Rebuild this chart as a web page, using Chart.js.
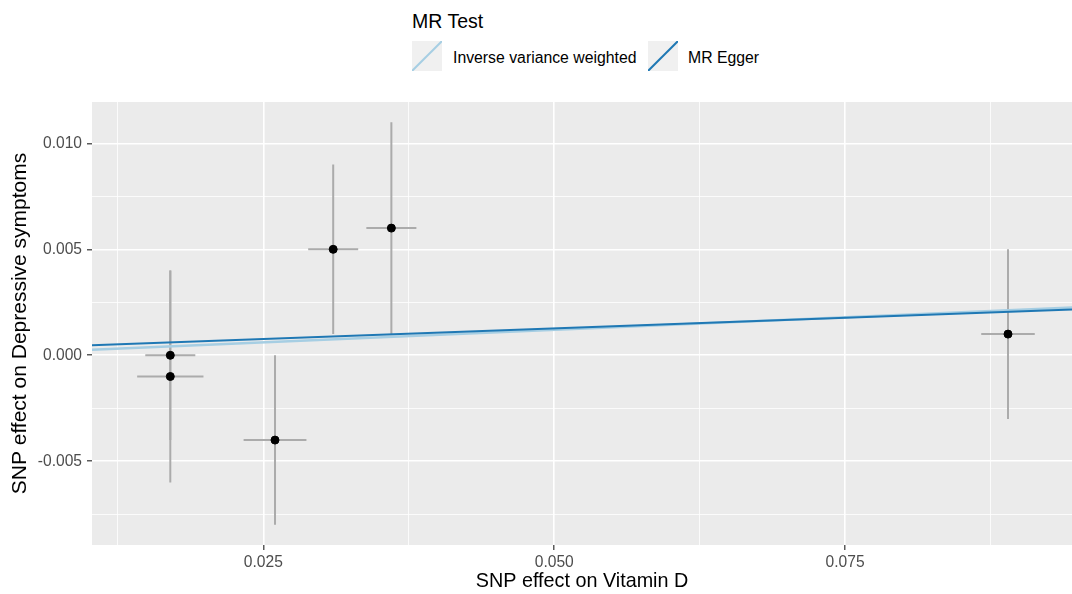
<!DOCTYPE html>
<html>
<head>
<meta charset="utf-8">
<script src="https://cdn.jsdelivr.net/npm/chart.js@4.4.1/dist/chart.umd.min.js"></script>
<style>
  html, body { margin: 0; padding: 0; background: #fff; }
  body { width: 1072px; height: 594px; position: relative; overflow: hidden;
         font-family: "Liberation Sans", Arial, sans-serif; }
  #wrap { position: absolute; left: 0; top: 0; width: 1072px; height: 594px; }
  .lg { position: absolute; white-space: nowrap; color: #000; }
  .lg-title { left: 412px; top: 9px; font-size: 19.5px; line-height: 24px; }
  .lg-text { top: 48px; font-size: 15.8px; line-height: 20px; }
  .lg-key { position: absolute; top: 41px; width: 30px; height: 30px; }
</style>
</head>
<body>
<div class="lg lg-title">MR Test</div>
<svg class="lg-key" style="left:412px" viewBox="0 0 30 30">
  <rect width="30" height="30" fill="#f0f0f0"/>
  <line x1="0" y1="30" x2="30" y2="0" stroke="#a6cee3" stroke-width="2"/>
</svg>
<div class="lg lg-text" style="left:453px">Inverse variance weighted</div>
<svg class="lg-key" style="left:648px" viewBox="0 0 30 30">
  <rect width="30" height="30" fill="#f0f0f0"/>
  <line x1="0" y1="30" x2="30" y2="0" stroke="#1f78b4" stroke-width="2"/>
</svg>
<div class="lg lg-text" style="left:688px">MR Egger</div>
<div id="wrap"><canvas id="c" width="1072" height="594"></canvas></div>
<script>
// SNP effects
const snpX    = [0.017, 0.017, 0.026, 0.031, 0.036, 0.089];
const snpY    = [0.000, -0.001, -0.004, 0.005, 0.006, 0.001];
const snpXse  = [0.00215, 0.00285, 0.0027, 0.00215, 0.00215, 0.0023];
const snpYse  = [0.004, 0.005, 0.004, 0.004, 0.005, 0.004];

// fitted lines, endpoints at the panel edges
const lineX    = [0.01027, 0.0945];
const ivwY     = [0.00026, 0.00226];
const eggerY   = [0.00047, 0.00216];

// axes
const xRange = [0.01027, 0.0945];
const yRange = [-0.00895, 0.01195];
const xGrid  = [0.0125, 0.025, 0.0375, 0.05, 0.0625, 0.075, 0.0875];
const xMajor = [0.025, 0.05, 0.075];
const xTickLabels = ["0.025", "0.050", "0.075"];
const yGrid  = [-0.0075, -0.005, -0.0025, 0, 0.0025, 0.005, 0.0075, 0.01];
const yMajor = [-0.005, 0, 0.005, 0.01];
const yTickLabels = ["-0.005", "0.000", "0.005", "0.010"];

const FONT = "Liberation Sans, Arial, sans-serif";

function majorIndex(list, v) {
  return list.findIndex((m) => Math.abs(m - v) < 1e-9);
}

const panelBg = {
  id: "panelBg",
  beforeDraw(chart) {
    const { ctx, chartArea: a } = chart;
    ctx.save();
    ctx.fillStyle = "#ebebeb";
    ctx.fillRect(a.left, a.top, a.right - a.left, a.bottom - a.top);
    ctx.restore();
  }
};

const errorBars = {
  id: "errorBars",
  beforeDatasetsDraw(chart) {
    const { ctx, chartArea: a } = chart;
    const xs = chart.scales.x, ys = chart.scales.y;
    ctx.save();
    ctx.beginPath();
    ctx.rect(a.left, a.top, a.right - a.left, a.bottom - a.top);
    ctx.clip();
    ctx.strokeStyle = "#ababab";
    ctx.lineWidth = 2;
    snpX.forEach((x, i) => {
      const px = xs.getPixelForValue(x), py = ys.getPixelForValue(snpY[i]);
      ctx.beginPath();
      ctx.moveTo(px, ys.getPixelForValue(snpY[i] - snpYse[i]));
      ctx.lineTo(px, ys.getPixelForValue(snpY[i] + snpYse[i]));
      ctx.moveTo(xs.getPixelForValue(x - snpXse[i]), py);
      ctx.lineTo(xs.getPixelForValue(x + snpXse[i]), py);
      ctx.stroke();
    });
    ctx.restore();
  }
};

new Chart(document.getElementById("c"), {
  type: "scatter",
  data: {
    datasets: [
      {
        label: "MR Egger",
        type: "line",
        data: lineX.map((x, i) => ({ x, y: eggerY[i] })),
        borderColor: "#1f78b4",
        borderWidth: 2,
        pointRadius: 0,
        order: 0
      },
      {
        label: "Inverse variance weighted",
        type: "line",
        data: lineX.map((x, i) => ({ x, y: ivwY[i] })),
        borderColor: "#a6cee3",
        borderWidth: 2.5,
        pointRadius: 0,
        order: 1
      },
      {
        label: "SNPs",
        data: snpX.map((x, i) => ({ x, y: snpY[i] })),
        backgroundColor: "#000",
        borderColor: "#000",
        pointRadius: 4,
        order: 2
      }
    ]
  },
  options: {
    responsive: false,
    animation: false,
    layout: { autoPadding: false, padding: { top: 102, left: 0, right: 0, bottom: 0 } },
    plugins: { legend: { display: false }, tooltip: { enabled: false } },
    scales: {
      x: {
        type: "linear",
        min: xRange[0],
        max: xRange[1],
        afterBuildTicks: (axis) => { axis.ticks = xGrid.map((v) => ({ value: v })); },
        afterFit: (scale) => { scale.height = 49; },
        border: { display: false },
        grid: {
          color: "#ffffff",
          lineWidth: (c) => (majorIndex(xMajor, c.tick.value) >= 0 ? 1.6 : 0.8),
          tickLength: 5,
          tickColor: (c) => (majorIndex(xMajor, c.tick.value) >= 0 ? "#333333" : "rgba(0,0,0,0)"),
          tickWidth: 1.2
        },
        ticks: {
          autoSkip: false,
          maxRotation: 0,
          padding: 3,
          color: "#4d4d4d",
          font: { family: FONT, size: 15.6 },
          callback: (v) => {
            const k = majorIndex(xMajor, v);
            return k >= 0 ? xTickLabels[k] : "";
          }
        },
        title: {
          display: true,
          text: "SNP effect on Vitamin D",
          color: "#000",
          font: { family: FONT, size: 19.8 },
          padding: { top: 0, bottom: 1 }
        }
      },
      y: {
        type: "linear",
        min: yRange[0],
        max: yRange[1],
        afterBuildTicks: (axis) => { axis.ticks = yGrid.map((v) => ({ value: v })); },
        afterFit: (scale) => { scale.width = 92; },
        border: { display: false },
        grid: {
          color: "#ffffff",
          lineWidth: (c) => (majorIndex(yMajor, c.tick.value) >= 0 ? 1.6 : 0.8),
          tickLength: 5,
          tickColor: (c) => (majorIndex(yMajor, c.tick.value) >= 0 ? "#333333" : "rgba(0,0,0,0)"),
          tickWidth: 1.2
        },
        ticks: {
          autoSkip: false,
          padding: 5,
          color: "#4d4d4d",
          font: { family: FONT, size: 15.6 },
          callback: (v) => {
            const k = majorIndex(yMajor, v);
            return k >= 0 ? yTickLabels[k] : "";
          }
        },
        title: {
          display: true,
          text: "SNP effect on Depressive symptoms",
          color: "#000",
          font: { family: FONT, size: 21 },
          padding: { top: 8, bottom: 0 }
        }
      }
    }
  },
  plugins: [panelBg, errorBars]
});
</script>
</body>
</html>
